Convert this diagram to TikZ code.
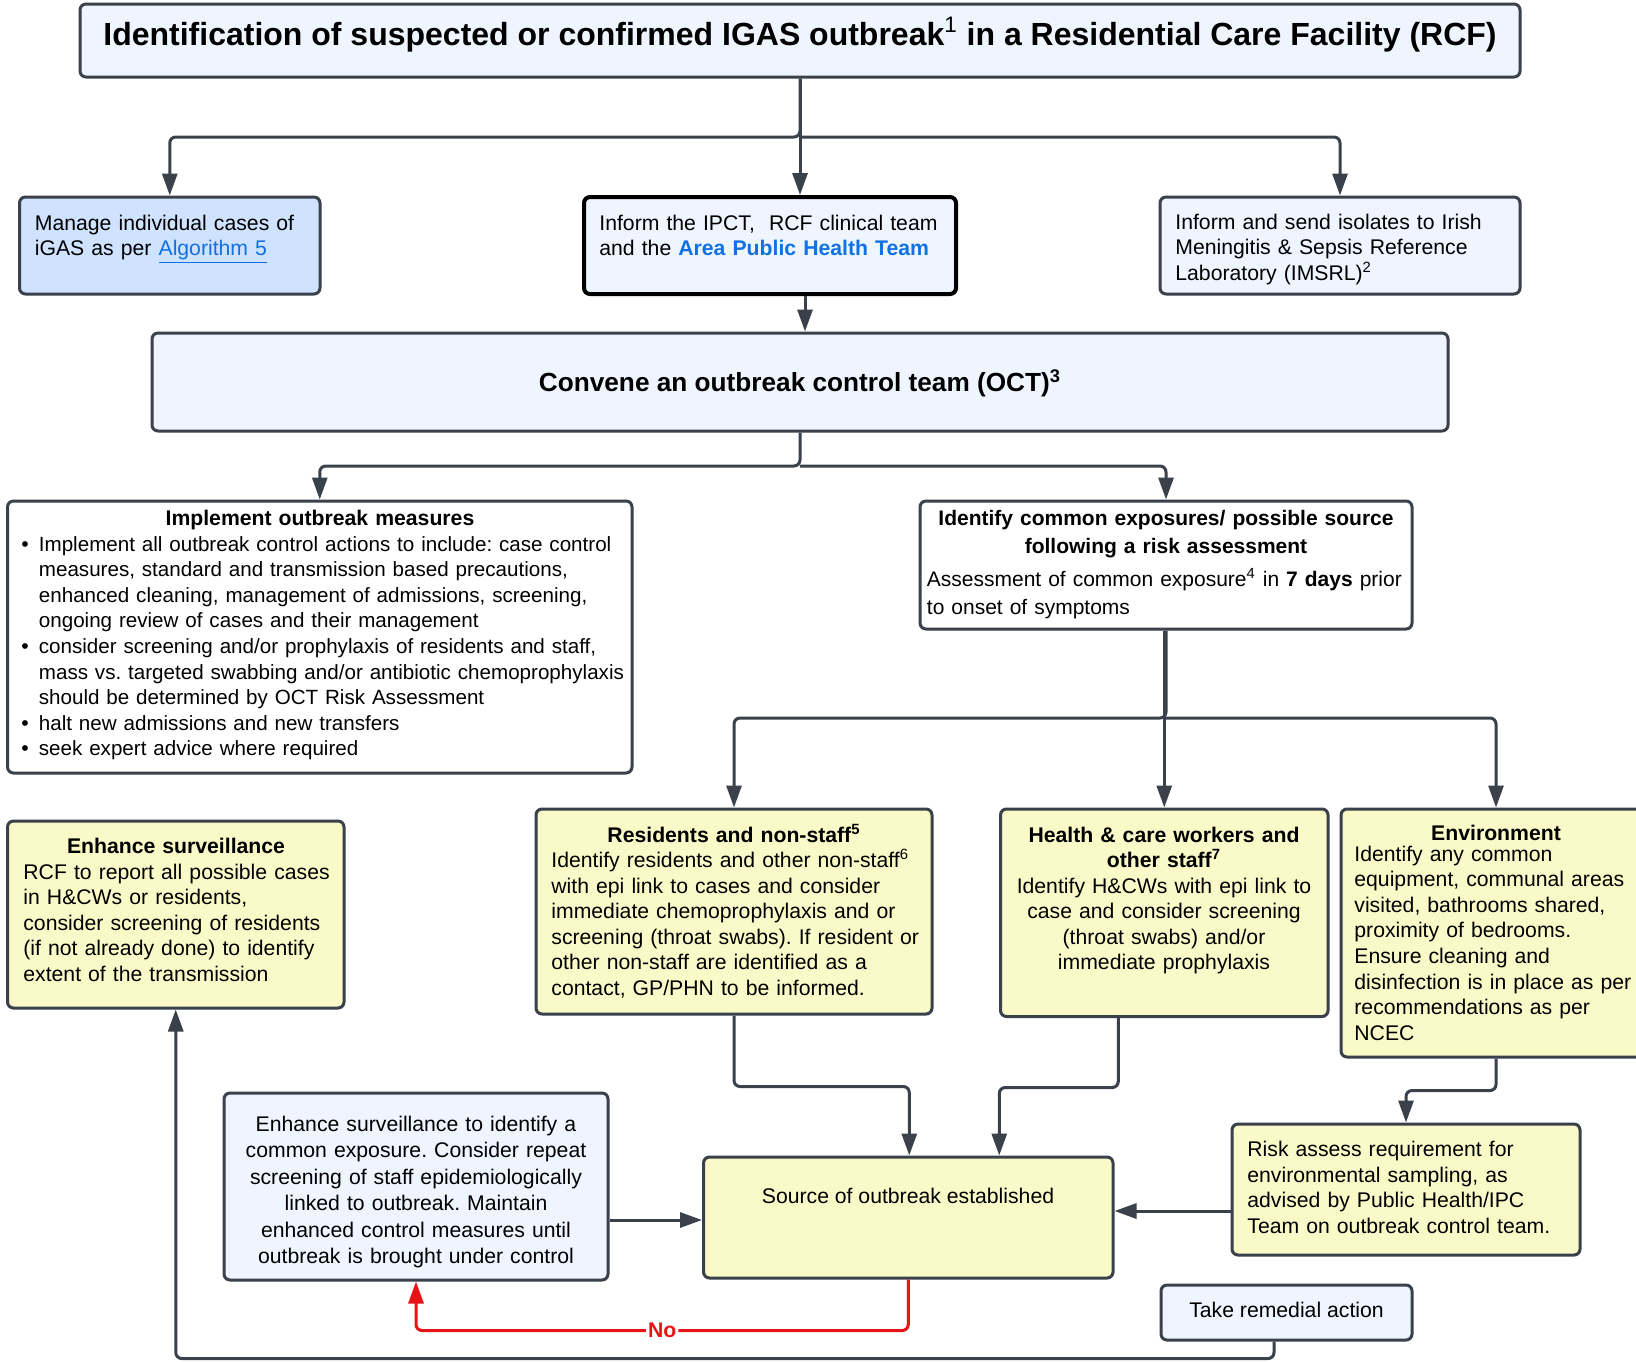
\documentclass[tikz,border=0pt]{standalone}
\usepackage{fontspec}
\setmainfont{Liberation Sans}
\usetikzlibrary{arrows.meta,fit}
\definecolor{edge}{RGB}{58,65,74}
\definecolor{lblue}{RGB}{238,245,255}
\definecolor{mblue}{RGB}{207,226,255}
\definecolor{lyellow}{RGB}{250,250,200}
\definecolor{linkblue}{RGB}{16,113,229}
\definecolor{nored}{RGB}{230,20,20}
\newcommand\bodyfont{\fontsize{10.6}{12.8}\selectfont}
\newcommand\implfont{\fontsize{10.3}{12.8}\selectfont}
\newcommand\identfont{\fontsize{10.5}{14}\selectfont}
\newcommand\esfont{\fontsize{10.6}{13.25}\selectfont}
\newcommand\titlefont{\fontsize{16}{19}\selectfont\bfseries}
\newcommand\convfont{\fontsize{13.1}{16}\selectfont\bfseries}
\frenchspacing
\begin{document}
\begin{tikzpicture}[x=0.5pt,y=-0.5pt,
  box/.style={draw=edge, line width=1.5pt, rounded corners=3pt, inner sep=0pt},
  conn/.style={draw=edge, line width=1.5pt, rounded corners=3pt, -{Triangle[length=11pt,width=7.5pt]}},
  redconn/.style={draw=nored, line width=1.5pt, rounded corners=3pt, -{Triangle[length=11pt,width=7.5pt]}},
  ltxt/.style={inner sep=0pt, font=\bodyfont, text width=#1, align=left, anchor=base west},
  ctxt/.style={inner sep=0pt, font=\bodyfont, text width=#1, align=center, anchor=base},
  bul/.style={inner sep=0pt, font=\bodyfont, anchor=base west}]
\useasboundingbox (0,0) rectangle (1636,1361);
\clip (0,0) rectangle (1636,1361);
\fill[white] (0,0) rectangle (1636,1361);

% ---------- top row ----------
\node[box, fill=lblue, fit={(80,4) (1520,77)}] (title) {};
\node[inner sep=0pt, anchor=base, font=\titlefont] (titletext) at (800,45.5)
  {Identification of suspected or confirmed IGAS outbreak\textsuperscript{\mdseries 1} in a Residential Care Facility (RCF)};

\node[box, fill=mblue, fit={(19.5,197) (320,294)}] (manage) {};
\node[ltxt=250pt] (managetext) at (34.5,230)
  {Manage individual cases of\\iGAS as per {\color{linkblue}\underline{Algorithm 5}}};

\node[box, fill=lblue, draw=black, line width=2pt, fit={(584,197) (956,294)}] (ipct) {};
\node[ltxt=250pt] (ipcttext) at (599,230)
  {Inform the IPCT,\ \ RCF clinical team\\and the \textbf{\color{linkblue}Area Public Health Team}};

\node[box, fill=lblue, fit={(1160,197) (1520,294)}] (isol) {};
\node[ltxt=250pt] (isoltext) at (1175,229)
  {Inform and send isolates to Irish\\Meningitis \& Sepsis Reference\\Laboratory (IMSRL)\textsuperscript{2}};

% ---------- convene ----------
\node[box, fill=lblue, fit={(152,333) (1448,431)}] (conv) {};
\node[inner sep=0pt, anchor=base, font=\convfont] (convtext) at (800,391.5)
  {Convene an outbreak control team (OCT)\textsuperscript{3}};

% ---------- implement ----------
\node[box, fill=white, fit={(7.5,501) (632,773)}] (impl) {};
\node[ctxt=300pt, font=\bodyfont\bfseries] (impltitle) at (320,525) {Implement outbreak measures};
\node[bul] (bu1) at (21,551) {•};
\node[ltxt=400pt, font=\implfont] (it1) at (38.5,551)
  {Implement all outbreak control actions to include: case control\\measures, standard and transmission based precautions,\\enhanced cleaning, management of admissions, screening,\\ongoing review of cases and their management};
\node[bul] (bu2) at (21,653.4) {•};
\node[ltxt=400pt, font=\implfont] (it2) at (38.5,653.4)
  {consider screening and/or prophylaxis of residents and staff,\\mass vs. targeted swabbing and/or antibiotic chemoprophylaxis\\should be determined by OCT Risk Assessment};
\node[bul] (bu3) at (21,730.2) {•};
\node[ltxt=400pt, font=\implfont] (it3) at (38.5,730.2) {halt new admissions and new transfers};
\node[bul] (bu4) at (21,755.8) {•};
\node[ltxt=400pt, font=\implfont] (it4) at (38.5,755.8) {seek expert advice where required};

% ---------- identify ----------
\node[box, fill=white, fit={(920,501) (1412,629)}] (ident) {};
\node[ctxt=260pt, font=\identfont\bfseries] (identtitle) at (1166,525)
  {Identify common exposures/ possible source\\following a risk assessment};
\node[ltxt=300pt, font=\identfont] (identtext) at (926.5,586)
  {Assessment of common exposure\textsuperscript{4} in \textbf{7 days} prior\\to onset of symptoms};

% ---------- middle row ----------
\node[box, fill=lyellow, fit={(7.5,821) (344,1008)}] (esurv) {};
\node[ctxt=160pt, font=\bodyfont\bfseries] (esurvtitle) at (176,853) {Enhance surveillance};
\node[ltxt=250pt] (esurvtext) at (23,879)
  {RCF to report all possible cases\\in H\&CWs or residents,\\consider screening of residents\\(if not already done) to identify\\extent of the transmission};

\node[box, fill=lyellow, fit={(536,809) (932,1014)}] (res) {};
\node[ctxt=190pt, font=\bodyfont\bfseries] (restitle) at (734,842) {Residents and non-staff\textsuperscript{5}};
\node[ltxt=250pt] (restext) at (551,867.5)
  {Identify residents and other non-staff\textsuperscript{6}\\with epi link to cases and consider\\immediate chemoprophylaxis and or\\screening (throat swabs). If resident or\\other non-staff are identified as a\\contact, GP/PHN to be informed.};

\node[box, fill=lyellow, fit={(1000.5,809) (1328,1016.5)}] (health) {};
\node[ctxt=160pt, font=\bodyfont\bfseries] (healthtitle) at (1164,842)
  {Health \& care workers and\\other staff\textsuperscript{7}};
\node[ctxt=160pt] (healthtext) at (1164,893)
  {Identify H\&CWs with epi link to\\case and consider screening\\(throat swabs) and/or\\immediate prophylaxis};

\node[box, fill=lyellow, fit={(1341,809) (1651,1057)}] (env) {};
\node[ctxt=150pt, font=\bodyfont\bfseries] (envtitle) at (1496,840.5) {Environment};
\node[ltxt=250pt] (envtext) at (1354,861)
  {Identify any common\\equipment, communal areas\\visited, bathrooms shared,\\proximity of bedrooms.\\Ensure cleaning and\\disinfection is in place as per\\recommendations as per\\NCEC};

% ---------- bottom ----------
\node[box, fill=lyellow, fit={(703.5,1157) (1113,1278)}] (src) {};
\node[inner sep=0pt, anchor=base, font=\bodyfont] (srctext) at (908,1203.5) {Source of outbreak established};

\node[box, fill=lyellow, fit={(1232,1124) (1580,1255)}] (risk) {};
\node[ltxt=250pt] (risktext) at (1247,1156.5)
  {Risk assess requirement for\\environmental sampling, as\\advised by Public Health/IPC\\Team on outbreak control team.};

\node[box, fill=lblue, fit={(224,1093) (608,1280)}] (esurv2) {};
\node[ctxt=190pt, font=\esfont] (esurv2text) at (416,1131)
  {Enhance surveillance to identify a\\common exposure. Consider repeat\\screening of staff epidemiologically\\linked to outbreak. Maintain\\enhanced control measures until\\outbreak is brought under control};

\node[box, fill=lblue, fit={(1161,1285) (1412,1340)}] (remed) {};
\node[inner sep=0pt, anchor=base, font=\bodyfont] (remedtext) at (1286.5,1317) {Take remedial action};

% ---------- connectors ----------
\coordinate (b1) at (800,137);
\draw[conn] (title.south) -- (b1) -| (manage.north);
\draw[conn] (title.south) -- (title.south |- ipct.north);
\draw[conn] (b1) -| (isol.north);
\draw[conn] ([xshift=2.5pt]conv.north |- ipct.south) -- ([xshift=2.5pt]conv.north);

\coordinate (b2) at (800,466);
\draw[conn] (conv.south) -- (b2) -| (impl.north);
\draw[conn] (b2) -| (ident.north);

\coordinate (b3) at (1166,718);
\draw[conn] (ident.south) -- (b3) -| (res.north);
\draw[conn] (health.north |- ident.south) -- (health.north);
\draw[conn] (b3) -| (env.north);

\draw[conn] (res.south) -- ++(0,71) -| ([xshift=0.5pt]src.north);
\draw[conn] ([xshift=-23pt]health.south) -- ++(0,69.5) -| ([xshift=45.5pt]src.north);
\draw[conn] (env.south) -- ++(0,32) -| (risk.north);
\draw[conn] ([yshift=-10.75pt]risk.west) -- ([yshift=-10.75pt]risk.west -| src.east);
\draw[conn] ([yshift=-16.75pt]esurv2.east) -- ([yshift=-16.75pt]esurv2.east -| src.west);
\draw[redconn] (src.south) -- ++(0,51) -| node[pos=0.25, fill=white, inner sep=1pt, text=nored, font=\bodyfont\bfseries] (nolabel) {No} (esurv2.south);
\draw[conn] ([xshift=-6.25pt]remed.south) -- ++(0,17) -| (esurv.south);
\end{tikzpicture}
\end{document}
